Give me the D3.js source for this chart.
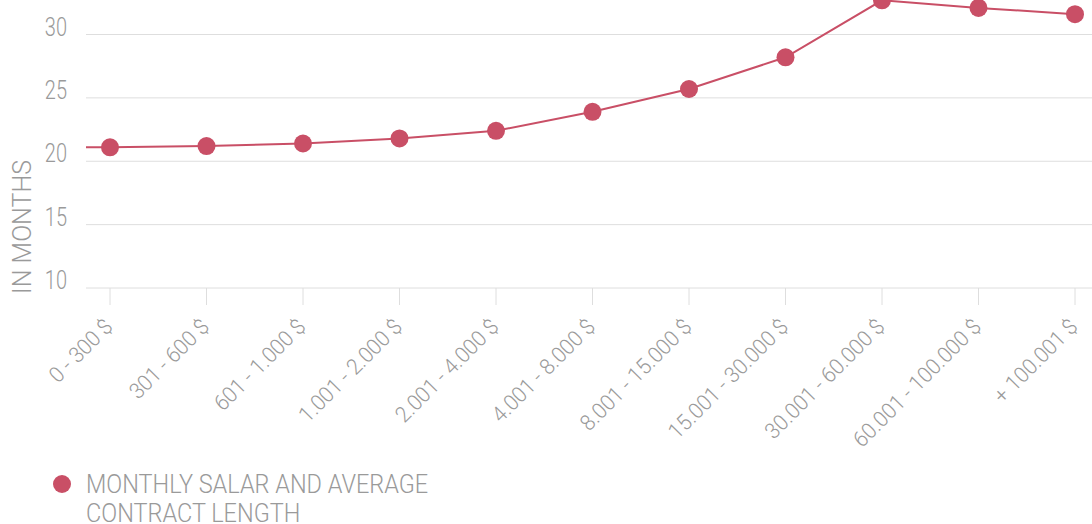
<!DOCTYPE html>
<html>
<head>
<meta charset="utf-8">
<script src="https://d3js.org/d3.v7.min.js"></script>
<style>
* { box-sizing:border-box; }
body { margin:0; background:#fff; overflow:hidden; }
svg text { font-family:'Roboto', sans-serif; font-weight:300; fill:#9a9a9a; }
</style>
</head>
<body>
<div id="chart"></div>
<script>
// salary bands (x) and average contract length in months (y)
var categories = ["0 - 300 $", "301 - 600 $", "601 - 1.000 $", "1.001 - 2.000 $", "2.001 - 4.000 $",
  "4.001 - 8.000 $", "8.001 - 15.000 $", "15.001 - 30.000 $", "30.001 - 60.000 $",
  "60.001 - 100.000 $", "+ 100.001 $"];
var months = [21.1, 21.2, 21.4, 21.8, 22.4, 23.9, 25.7, 28.2, 32.7, 32.1, 31.6];
var yTicks = [10, 15, 20, 25, 30];
var seriesName = ["MONTHLY SALAR AND AVERAGE", "CONTRACT LENGTH"];

var W = 1092, H = 524;
var red = "#c94f66";

var svg = d3.select("#chart").append("svg")
  .attr("width", W).attr("height", H);

var plotLeft = 86, plotRight = W;

var x = d3.scalePoint().domain(categories).range([110, 1075]);
var y = d3.scaleLinear().domain([10, 30]).range([288, 34.5]);

// gridlines
svg.append("g").selectAll("line")
  .data(yTicks).enter().append("line")
  .attr("x1", plotLeft).attr("x2", plotRight)
  .attr("y1", function(d){ return y(d); })
  .attr("y2", function(d){ return y(d); })
  .attr("stroke", "#dedede").attr("stroke-width", 1);

// y tick labels
svg.append("g").selectAll("text")
  .data(yTicks).enter().append("text")
  .attr("text-anchor", "end")
  .style("font-size", "25px")
  .attr("transform", function(d){ return "translate(67," + (y(d) + 1) + ") scale(0.8,1)"; })
  .text(function(d){ return d; });

// y title
svg.append("text")
  .attr("transform", "translate(31,227) rotate(-90)")
  .attr("text-anchor", "middle")
  .style("font-size", "25px")
  .text("IN MONTHS");

// x ticks
svg.append("g").selectAll("line")
  .data(categories).enter().append("line")
  .attr("x1", function(d){ return x(d); })
  .attr("x2", function(d){ return x(d); })
  .attr("y1", y(10)).attr("y2", y(10) + 17)
  .attr("stroke", "#dedede").attr("stroke-width", 1);

// x labels
svg.append("g").selectAll("text")
  .data(categories).enter().append("text")
  .attr("text-anchor", "end")
  .style("font-size", "22px")
  .attr("transform", function(d){ return "translate(" + (x(d) + 4) + "," + (y(10) + 40) + ") rotate(-45) scale(0.95,1)"; })
  .text(function(d){ return d; });

// line (carried in from the left edge of the plot)
var linePts = [[plotLeft, y(months[0])]].concat(categories.map(function(c, i){ return [x(c), y(months[i])]; }));
svg.append("path")
  .attr("d", d3.line()(linePts))
  .attr("fill", "none").attr("stroke", red).attr("stroke-width", 2);

svg.append("g").selectAll("circle")
  .data(months).enter().append("circle")
  .attr("cx", function(d, i){ return x(categories[i]); })
  .attr("cy", function(d){ return y(d); })
  .attr("r", 9)
  .attr("fill", red);

// legend
svg.append("circle").attr("cx", 62).attr("cy", 484).attr("r", 9).attr("fill", red);
svg.append("g").selectAll("text")
  .data(seriesName).enter().append("text")
  .attr("transform", function(d, i){ return "translate(86," + (493 + i * 29) + ") scale(0.94,1)"; })
  .style("font-size", "25px")
  .text(function(d){ return d; });
</script>
</body>
</html>
